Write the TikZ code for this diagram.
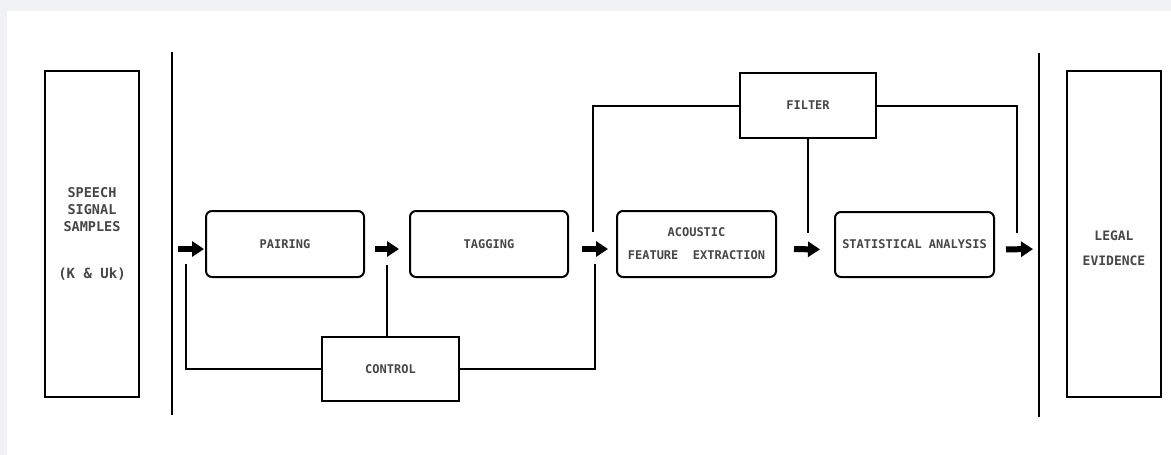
\documentclass[tikz,border=0pt]{standalone}
\usepackage{fontspec}
\setmonofont{DejaVu Sans Mono}
\usetikzlibrary{positioning, arrows.meta}
\definecolor{bggray}{RGB}{241,242,244}
\definecolor{txtgray}{RGB}{70,70,70}

\begin{document}
\begin{tikzpicture}[x=1pt, y=-1pt,
    lbl/.style={font=\ttfamily\bfseries\fontsize{12}{23}\selectfont, text=txtgray, align=center},
    block/.style={lbl, draw=black, line width=2pt, rounded corners=6pt, inner sep=0pt, minimum width=158pt, minimum height=66pt},
    sqbox/.style={lbl, draw=black, line width=2pt, inner sep=0pt, minimum width=137pt, minimum height=64pt},
    tall/.style={draw=black, line width=2pt, inner sep=0pt, minimum width=94pt, minimum height=326pt},
    wire/.style={line width=2pt},
    flow/.style={line width=6pt, -{Triangle[length=12pt, width=15pt]}}]
            \fill[bggray] (0,0) rectangle (1171,455);
            \fill[white] (7,11) rectangle (1171,455);
            % side boxes and dividers
            \node[tall, lbl, font=\ttfamily\bfseries\fontsize{13.5}{17}\selectfont] (spch) at (92,234) {SPEECH\\SIGNAL\\SAMPLES\\[30pt]{\fontsize{14}{17}\selectfont(K \& Uk)}};
            \node[tall, label={[lbl, font=\ttfamily\bfseries\fontsize{13}{25}\selectfont, yshift=-14pt]center:LEGAL\\EVIDENCE}] (legal) at (1114,234) {};
            \draw[wire] (172,52) -- (172,415);
            \draw[wire] (1039,53) -- (1039,417);
            \coordinate (divL) at (172,244);
            \coordinate (divR) at (1039,244);
            % main chain
            \node[block] (pair) at (285,244) {PAIRING};
            \node[block] (tag) at (489,244) {TAGGING};
            \node[block, minimum width=159pt] (acou) at (696.5,244) {ACOUSTIC\\FEATURE~~EXTRACTION};
            \node[block, minimum width=159pt, minimum height=65pt] (stat) at (914.5,244.5) {STATISTICAL ANALYSIS};
            \foreach \a/\b/\s/\e in {divL/pair/6/1, pair/tag/10/10, tag/acou/13/8, acou/stat/17/14, stat/divR/11/6} {
                \draw[flow, shorten <=\s pt, shorten >=\e pt] ([yshift=-5pt]\a.east) -- ([yshift=-5pt]\b.west);
            }
            % control loop
            \node[sqbox] (ctrl) at (390.5,369) {CONTROL};
            \coordinate (cLeft) at (186,264);
            \coordinate (cUp) at (387,265);
            \coordinate (cRight) at (595,264);
            \draw[wire] (ctrl.west) -| (cLeft);
            \draw[wire] (cUp) -- (cUp |- ctrl.north);
            \draw[wire] (ctrl.east) -| (cRight);
            % filter loop
            \node[sqbox, minimum width=136pt, minimum height=65pt] (filter) at (808,105.5) {FILTER};
            \coordinate (fLeft) at (593,232);
            \coordinate (fDown) at (808,233);
            \coordinate (fRight) at (1017,233);
            \draw[wire] (filter.west) -| (fLeft);
            \draw[wire] (filter.south) -- (fDown);
            \draw[wire] (filter.east) -| (fRight);
        \end{tikzpicture}
\end{document}
